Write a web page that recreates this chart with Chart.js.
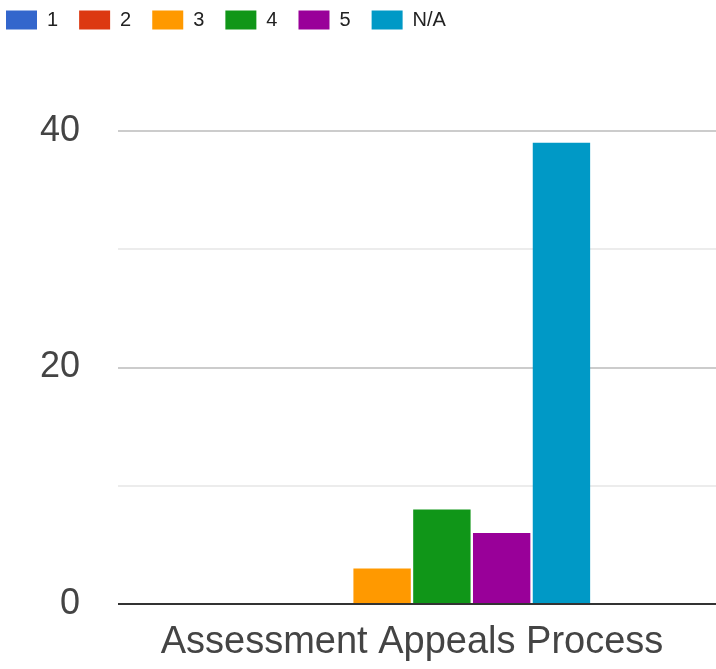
<!DOCTYPE html>
<html>
<head>
<meta charset="utf-8">
<script src="https://cdn.jsdelivr.net/npm/chart.js@4"></script>
<style>
  html, body { margin: 0; padding: 0; background: #fff; }
  #wrap { width: 716px; height: 669px; position: relative; }
</style>
</head>
<body>
<div id="wrap"><canvas id="surveyChart" width="716" height="669"></canvas></div>
<script>
// 데이터
const categories = ['Assessment Appeals Process'];
const ratingLabels = ['1', '2', '3', '4', '5', 'N/A'];
const ratingCounts = [0, 0, 3, 8, 6, 39];
const ratingColors = ['#3366cc', '#dc3912', '#ff9900', '#109618', '#990099', '#0099c6'];
const yTicks = [0, 20, 40];

const FONT = "'Liberation Sans', Arial, sans-serif";

// 범례 높이 늘리기 + 위치 조정, 그리드 선은 오른쪽 끝까지
const legendSpacer = {
	id: 'legendSpacer',
	beforeInit(chart) {
		const origFit = chart.legend.fit;
		chart.legend.fit = function () {
			origFit.bind(chart.legend)();
			this.height = 131;
		};
	},
	afterLayout(chart) {
		chart.legend.left = -15;
		chart.legend.top = -11;
		chart.chartArea.right = 716;
		chart.chartArea.width = chart.chartArea.right - chart.chartArea.left;
	}
};

const datasets = ratingLabels.map((label, i) => ({
	label: label,
	data: [ratingCounts[i]],
	backgroundColor: ratingColors[i],
	borderWidth: 0,
	categoryPercentage: 0.61,
	barPercentage: 0.96
}));

new Chart(document.getElementById('surveyChart'), {
	type: 'bar',
	data: { labels: categories, datasets: datasets },
	options: {
		responsive: false,
		animation: false,
		layout: { padding: { right: 10 } },
		plugins: {
			legend: {
				position: 'top',
				align: 'start',
				labels: {
					boxWidth: 31,
					boxHeight: 19,
					padding: 21,
					color: '#222',
					font: { family: FONT, size: 20 }
				}
			},
			tooltip: { enabled: false }
		},
		scales: {
			x: {
				grid: { display: false, drawTicks: false },
				border: { display: false },
				ticks: {
					padding: 16,
					color: '#444',
					font: { family: FONT, size: 38 }
				},
				afterFit(axis) { axis.height = 65; }
			},
			y: {
				min: 0,
				max: 40,
				afterBuildTicks(axis) {
					axis.ticks = [0, 10, 20, 30, 40].map(v => ({ value: v }));
				},
				grid: {
					drawTicks: false,
					lineWidth: 2,
					color: ctx => {
						const v = ctx.tick ? ctx.tick.value : null;
						if (v === 0) return '#333';
						return yTicks.includes(v) ? '#cccccc' : '#ececec';
					}
				},
				border: { display: false },
				ticks: {
					padding: 38,
					color: '#444',
					font: { family: FONT, size: 36 },
					callback: value => yTicks.includes(value) ? String(value) : ''
				},
				afterFit(axis) { axis.width = 118; }
			}
		}
	},
	plugins: [legendSpacer]
});
</script>
</body>
</html>
